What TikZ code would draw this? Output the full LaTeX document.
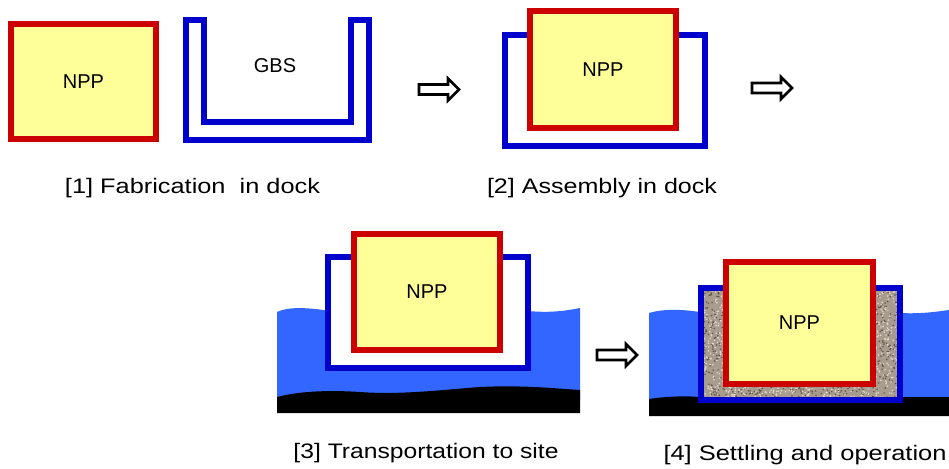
\documentclass[tikz,border=0pt]{standalone}
\usepackage{fontspec}
\setmainfont{Liberation Sans}
\usepackage{graphicx}
\definecolor{nppred}{RGB}{204,0,0}
\definecolor{nppyel}{RGB}{255,255,153}
\definecolor{gbsblue}{RGB}{0,0,204}
\definecolor{sea}{RGB}{51,102,255}
\definecolor{gravel}{RGB}{168,156,142}
\definecolor{gravdark}{RGB}{95,84,74}
\definecolor{gravlight}{RGB}{228,220,210}
\begin{document}
\begin{tikzpicture}[x=1pt,y=-1pt,
  npp/.style={draw=nppred, fill=nppyel, line width=6pt, inner sep=0pt,
    font=\fontsize{20}{24}\selectfont},
  gbsbox/.style={draw=gbsblue, line width=6pt, inner sep=0pt},
  lbl/.style={inner sep=0pt, font=\fontsize{20}{24}\selectfont},
  captext/.style={inner sep=0pt, font=\fontsize{21}{25}\selectfont},
  hollow/.style={draw=black, fill=white, line width=2.6pt, line join=miter},
  water/.style={fill=sea, draw=none},
  bed/.style={fill=black, draw=none}]
\useasboundingbox (0,0) rectangle (949,468);
\fill[white] (0,0) rectangle (949,468);
\newcommand\hollowarrow[1]{\draw[hollow, shift={#1}] (0,-5) -- (29,-5) -- (29,-11) -- (40,0) -- (29,11) -- (29,5) -- (0,5) -- cycle;}

% ---- panel 1
\node[npp, minimum width=145, minimum height=115] (npp1) at (83.5,81.5) {NPP};
\draw[draw=gbsblue, line width=6pt, line join=miter] (186,20) -- (186,140) -- (369,140) -- (369,20) -- (350.5,20) -- (350.5,121.5) -- (204,121.5) -- (204,20) -- cycle;
\node[lbl] (gbs1) at (275,66) {GBS};
\node[captext] (cap1) at (192.5,188) {\resizebox{255pt}{\height}{[1] Fabrication\ \ in dock}};
\hollowarrow{(419,89.5)}

% ---- panel 2
\node[gbsbox, minimum width=200, minimum height=111] (gbs2) at (605,90.5) {};
\node[npp, minimum width=146, minimum height=117] (npp2) at (603,69.5) {NPP};
\node[captext] (cap2) at (602,188) {\resizebox{230pt}{\height}{[2] Assembly in dock}};
\hollowarrow{(752,88)}

% ---- panel 3
\fill[water] (277,312) .. controls (287,307) and (305,307) .. (330,311) -- (528,311)
  .. controls (550,313) and (565,311) .. (580,308) -- (580,400) -- (277,400) -- cycle;
\fill[bed] (277,397) .. controls (300,391) and (330,390) .. (360,392)
  .. controls (400,395) and (440,390) .. (480,387)
  .. controls (520,385) and (550,388) .. (580,390) -- (580,413) -- (277,413) -- cycle;
\node[gbsbox, fill=white, minimum width=200, minimum height=111] (gbs3) at (428,312.5) {};
\node[npp, minimum width=146, minimum height=116] (npp3) at (427,292) {NPP};
\node[captext] (cap3) at (426,453) {\resizebox{265pt}{\height}{[3] Transportation to site}};
\hollowarrow{(597,355)}

% ---- panel 4
\fill[water] (649,313) .. controls (662,309) and (680,309) .. (700,312) -- (900,313)
  .. controls (920,314) and (935,312) .. (949,310) -- (949,400) -- (649,400) -- cycle;
\fill[bed] (649,399) .. controls (668,396) and (688,396) .. (700,397) -- (949,397) -- (949,416) -- (649,416) -- cycle;
\begin{scope}
  \clip (701,288) rectangle (900,400);
  \fill[gravel] (701,288) rectangle (900,400);
  \pgfmathsetseed{7}
  \foreach \i in {1,...,2600}{
    \pgfmathsetmacro\rx{701+199*rnd}
    \pgfmathsetmacro\ry{288+112*rnd}
    \pgfmathsetmacro\rc{rnd}
    \ifdim\rc pt<0.45pt
      \fill[gravdark] (\rx,\ry) circle[radius=0.85pt];
    \else
      \fill[gravlight] (\rx,\ry) circle[radius=0.85pt];
    \fi
  }
\end{scope}
\node[gbsbox, minimum width=199, minimum height=112] (gbs4) at (800.5,344) {};
\node[npp, minimum width=147, minimum height=122] (npp4) at (799.5,323) {NPP};
\node[captext] (cap4) at (805,455) {\resizebox{283pt}{\height}{[4] Settling and operation}};
\end{tikzpicture}
\end{document}
